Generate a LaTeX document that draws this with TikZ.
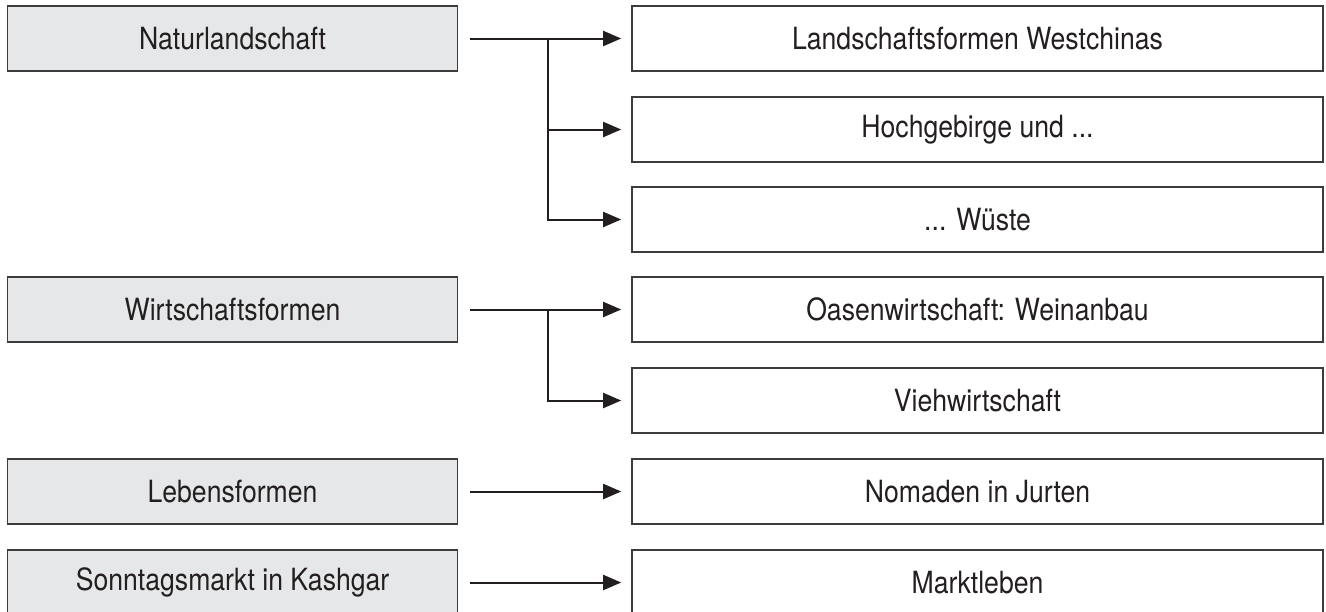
\documentclass[tikz,border=0pt]{standalone}
\usepackage{fontspec}
\setmainfont[FakeStretch=0.87]{TeX Gyre Heros}
\usetikzlibrary{arrows.meta}
\definecolor{boxgray}{HTML}{E6E7E8}
\definecolor{framegray}{HTML}{3C3C3C}
\definecolor{inkgray}{HTML}{231F20}
\begin{document}
\begin{tikzpicture}[
    x=0.5pt, y=-0.5pt,
    every node/.style={font=\fontsize{15.3}{18}\selectfont, text=inkgray},
    topic/.style={rectangle, draw=framegray, line width=0.8pt, fill=boxgray, minimum width=225pt, minimum height=32.5pt, inner sep=0pt},
    detail/.style={rectangle, draw=framegray, line width=0.8pt, fill=white, minimum width=345.5pt, minimum height=32.5pt, inner sep=0pt},
    link/.style={draw=inkgray, line width=1pt, -{Triangle[length=9pt, width=7.5pt]}, shorten >=5pt},
    stem/.style={draw=inkgray, line width=1pt}
]
\useasboundingbox (0,0) rectangle (1326,611);

% linke Spalte
\node[topic] (natur) at (232.5,38.5) {Naturlandschaft};
\node[topic] (wirt) at (232.5,309.5) {Wirtschaftsformen};
\node[topic] (leben) at (232.5,491.5) {Lebensformen};
\node[topic] (markt) at (232.5,582.5) {Sonntagsmarkt in Kashgar};

% rechte Spalte
\node[detail] (westchina) at (977.5,38.5) {Landschaftsformen Westchinas};
\node[detail] (hochgeb) at (977.5,129.5) {Hochgebirge und ...};
\node[detail] (wueste) at (977.5,219.5) {... Wüste};
\node[detail] (oase) at (977.5,309.5) {Oasenwirtschaft: Weinanbau};
\node[detail] (vieh) at (977.5,400.5) {Viehwirtschaft};
\node[detail] (nomaden) at (977.5,491.5) {Nomaden in Jurten};
\node[detail] (marktleben) at (977.5,582.5) {Marktleben};

% Verzweigungen
\coordinate (knot1) at (548,38.5);
\coordinate (knot2) at (548,309.5);

\draw[link, shorten <=6pt] (natur.east) -- (westchina.west);
\draw[stem] (knot1) -- (knot1 |- wueste.west);
\draw[link] (knot1) |- (hochgeb.west);
\draw[link] (knot1) |- (wueste.west);

\draw[link, shorten <=6pt] (wirt.east) -- (oase.west);
\draw[link] (knot2) |- (vieh.west);

\draw[link, shorten <=6pt] (leben.east) -- (nomaden.west);
\draw[link, shorten <=6pt] (markt.east) -- (marktleben.west);

\end{tikzpicture}
\end{document}
